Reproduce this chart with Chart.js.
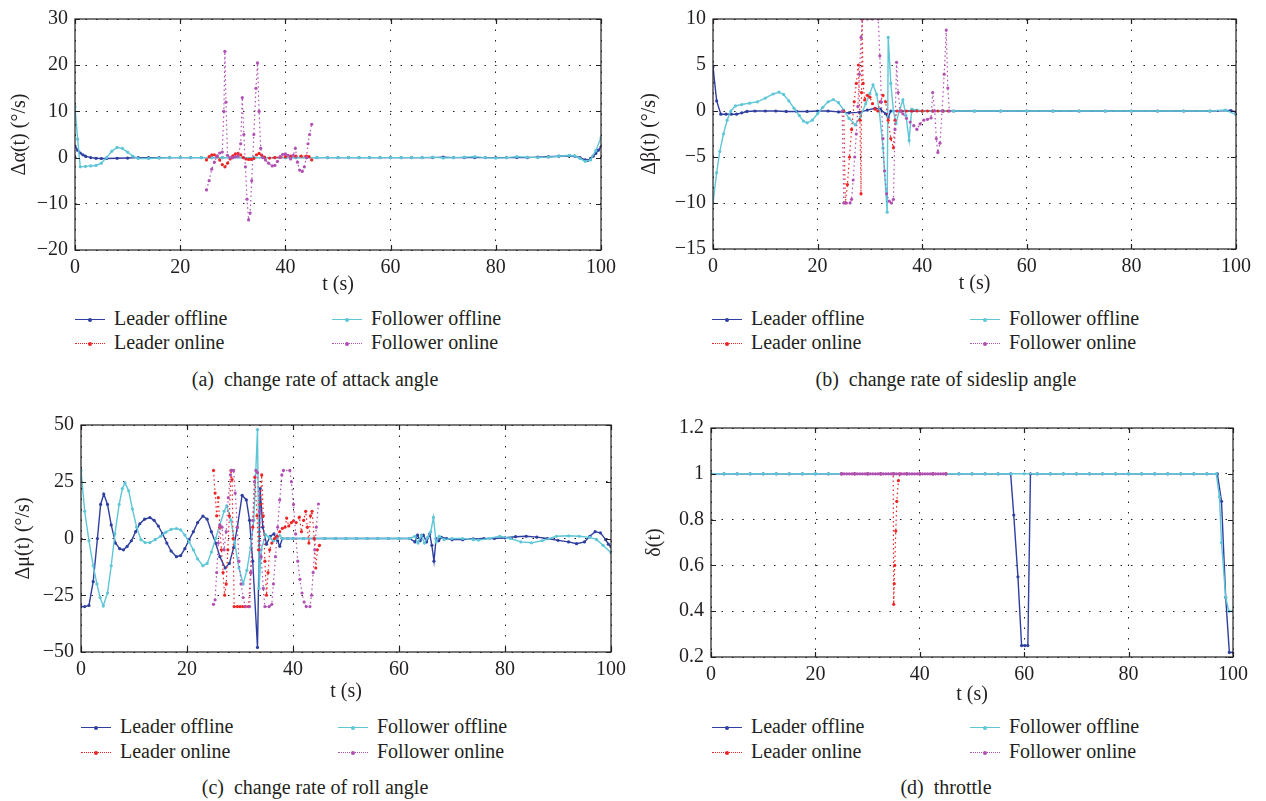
<!DOCTYPE html>
<html>
<head>
<meta charset="utf-8">
<script src="https://cdn.jsdelivr.net/npm/chart.js@4"></script>
<style>
  body { margin: 0; background: #fff; }
  #fig { position: relative; width: 1266px; height: 801px; overflow: hidden;
         font-family: "Liberation Serif", "Times New Roman", serif; color: #231f20; }
  #fig canvas { position: absolute; }
  .item { position: absolute; height: 20px; font-size: 20px; line-height: 20px; white-space: nowrap; }
  .smp { position: absolute; left: 0; top: 10px; width: 30px; height: 0; }
  .dot { position: absolute; left: 13px; top: -2.5px; width: 4px; height: 4px; border-radius: 2px; }
  .lbl { position: absolute; left: 39px; top: -1px; }
  .cap { position: absolute; font-size: 20px; line-height: 20px; white-space: pre; transform: translateX(-50%); }
</style>
</head>
<body>
<div id="fig">
  <canvas id="cA"></canvas>
  <canvas id="cB"></canvas>
  <canvas id="cC"></canvas>
  <canvas id="cD"></canvas>
</div>
<script>
// ---- data, [t, value] ----
const xTicks = [0, 20, 40, 60, 80, 100];
const seriesNames = ["Leader offline", "Follower offline", "Leader online", "Follower online"];

// (a) change rate of attack angle
const aLeaderOff = [[0,2.5],[0.5,1.6],[1,1.0],[1.5,0.6],[2,0.3],[3,0],[4,-0.15],[5,-0.2],[6,-0.2],[8,-0.15],[10,-0.1],[12,0],[14,0],[16,0],[18,0],[20,0],[22,0],[24,0],[26,0],[28,0],[30,0],[32,0],[34,0],[36,0],[38,0],[40,0],[42,0],[44,0],[46,0],[48,0],[50,0],[52,0],[54,0],[56,0],[58,0],[60,0],[62,0],[64,0],[66,0],[68,0],[70,0.1],[72,0],[74,0],[76,0],[78,0],[80,0],[82,0],[84,0],[86,0],[88,0.1],[90,0.2],[92,0.3],[94,0.4],[95,0.3],[96,0],[97,-0.5],[97.5,-0.6],[98,-0.3],[98.5,0.3],[99,0.9],[99.5,1.6],[100,2.3]];
const aFollowerOff = [[0,11],[0.5,4],[1,-2],[2,-1.9],[3,-1.8],[4,-1.7],[5,-1.2],[6,0],[7,1.4],[8,2.2],[9,2.0],[10,1.2],[11,0.3],[12,-0.2],[14,-0.2],[16,-0.1],[18,0],[20,0],[22,0],[24,0],[26,0],[28,0],[30,0],[32,0],[34,0],[36,0],[38,0],[40,0],[42,0],[44,0],[46,0],[48,0],[50,0],[52,0],[54,0],[56,0],[58,0],[60,0],[62,0],[64,0],[66,0],[68,0.1],[70,-0.1],[72,0],[74,0.1],[76,0.2],[78,0],[80,-0.1],[82,0],[84,0.2],[86,0.1],[88,0],[90,0.1],[92,0.3],[94,0.5],[95,0.4],[96,-0.2],[97,-0.8],[98,-0.5],[99,1.5],[100,4.3]];
const aLeaderOn = [[25,-0.5],[25.5,0.2],[26,0.6],[26.5,0.6],[27,0.3],[27.5,-0.5],[28,-1.5],[28.5,-2],[29,-1.2],[29.5,-0.3],[30,0.4],[30.5,0.8],[31,0.9],[31.5,0.6],[32,0],[32.5,-0.3],[33,-0.4],[33.5,-0.4],[34,-0.2],[34.5,0.6],[35,0.9],[35.5,0.5],[36,0.1],[37,-0.1],[38,0],[39,0.1],[40,0.2],[41,0.3],[42,0.3],[43,0.3],[44,0.3],[44.5,0.2],[45,-0.5]];
const aFollowerOn = [[25,-7],[25.5,-5],[26,-2.5],[26.5,-1],[27,0.3],[27.5,1],[28,1.2],[28.3,10],[28.5,23],[28.7,12],[29,0.5],[29.5,0],[30,0],[30.5,0.2],[31,0.3],[31.5,3],[31.8,13],[32.1,5],[32.4,-2],[32.7,-9],[33,-13.5],[33.3,-12],[33.6,-5],[34,5],[34.4,15],[34.7,20.5],[35,10],[35.3,2],[35.7,0],[36.2,-0.5],[36.8,-1.2],[37.5,-1.8],[38,-1.7],[38.5,-0.8],[39,0.2],[39.5,0.7],[40,0.8],[40.5,0.5],[41,-0.3],[41.5,0.5],[41.9,2],[42.3,-1],[42.7,-2.7],[43.2,-3],[43.6,-2],[44,0],[44.3,3],[44.6,5],[45,7.2]];

// (b) change rate of sideslip angle
const bLeaderOff = [[0,4.8],[0.7,1.1],[1.5,-0.35],[2.5,-0.35],[3.5,-0.35],[4.5,-0.35],[5.5,-0.2],[6.5,-0.05],[8,0],[10,0],[12,0],[14,-0.05],[16,-0.05],[18,-0.05],[20,0],[22,0],[24,-0.1],[26,-0.2],[28,-0.15],[29.5,0.1],[31,0.3],[32,0.2],[33,-0.3],[33.5,-0.7],[34,0],[36,0],[38,0],[40,0],[42,0],[44,0],[46,0],[50,0],[55,0],[60,0],[65,0],[70,0],[75,0],[80,0],[85,0],[90,0],[95,0],[99,0.05],[100,-0.1]];
const bFollowerOff = [[0,-10],[0.7,-6.7],[1.3,-4.4],[2,-2.5],[2.7,-1],[3.4,0],[4.3,0.55],[5.5,0.7],[7,0.85],[8.5,1.0],[10,1.4],[11.5,1.85],[12.6,2.05],[13.5,1.8],[14.5,1.1],[15.5,0.3],[16.5,-0.5],[17.3,-1.1],[18,-1.28],[19,-1.0],[20,-0.3],[21,0.4],[22,1.0],[23,1.25],[24,0.9],[25,0.1],[26,-0.8],[27.2,-1.5],[28.2,-0.6],[29.2,0.8],[30,1.9],[30.6,2.85],[31.3,1.8],[31.8,0],[32.5,-4],[33.3,-11],[33.5,8],[34,3],[34.5,0],[35,-1.35],[35.6,0],[36.3,1.2],[36.9,-0.5],[37.5,-3.2],[38,0.2],[39,0.1],[40,0],[42,0],[44,0],[46,0],[50,0],[55,0],[60,0],[65,0],[70,0],[75,0],[80,0],[85,0],[90,0],[95,0],[98,0.1],[100,-0.4]];
const bLeaderOn = [[25,0],[25.3,-10],[25.7,-8],[26.1,-5],[26.5,-2],[27,1],[27.4,3],[27.8,5],[28.1,-1],[28.3,-9],[28.4,2],[28.5,10],[28.7,3],[29,1.2],[29.5,1.7],[30,1.5],[30.5,0.8],[31,0.2],[31.5,0],[32,1],[32.5,1.7],[33,1],[33.5,-1],[34,-3],[34.5,-4],[34.8,-1],[35.2,0],[36,0],[37,0],[38,0],[39,0],[40,0],[41,0],[42,0],[43,0],[44,0],[45,0]];
const bFollowerOn = [[24.7,0],[25,-10],[25.5,-10],[26.2,-10],[26.5,-9.6],[26.8,-7.5],[27.1,-5],[27.4,-2.5],[27.7,0.5],[28,4],[28.3,8],[28.6,10],[29.5,10],[30.5,10],[31.6,10],[31.9,6],[32.2,1],[32.5,-3],[32.8,-6.5],[33.2,-9],[33.7,-9.8],[34.1,-10],[34.5,-9.6],[34.8,-2],[35.1,5.3],[35.4,2],[35.8,0],[36.3,-0.3],[37,-0.8],[37.7,-1.2],[38.4,-1.6],[39,-2],[39.6,-1.4],[40.3,-1],[41,-0.9],[41.7,-0.75],[42,2],[42.4,0],[42.7,-3],[43,-4.5],[43.4,-3.5],[43.8,0],[44.2,4],[44.6,8.8],[44.9,2.5],[45.2,0]];

// (c) change rate of roll angle
const cLeaderOff = [[0,-30],[0.7,-30],[1.5,-29.5],[2.3,-19],[3.1,0],[3.7,15],[4.3,19.6],[5,15],[5.7,6],[6.5,-2],[7.3,-4.5],[8,-5],[8.7,-3.5],[9.5,-1],[10.3,3],[11.1,6.5],[12,8.5],[13,9.2],[13.8,8],[14.6,5.5],[15.4,2],[16.2,-2],[17,-5.5],[18,-8],[18.8,-7.5],[19.6,-4.5],[20.4,-0.5],[21.2,3],[22,7],[23,9.9],[23.8,8.5],[24.6,3],[25.4,-2],[26.2,-8],[27.2,-13],[28,-11],[28.8,-4],[29.5,5],[30.4,19],[31.2,17],[31.8,8],[32.4,-10],[33.3,-48],[33.8,22],[34.3,5],[35,-2.5],[35.7,1],[36.4,2],[37.1,-1],[37.5,-3.4],[38,0],[39,0],[40,0],[42,0],[44,0],[46,0],[48,0],[50,0],[52,0],[54,0],[56,0],[58,0],[60,0],[62,0],[63,-1.5],[63.5,1.5],[64,-1],[64.6,1.5],[65.2,-1.5],[65.8,2],[66.2,-3],[66.6,-10],[67,0],[67.5,-1],[68,0.5],[69,0],[70,-0.5],[72,-0.5],[74,-0.2],[76,0],[78,0],[80,0.3],[82,0.8],[84,1],[86,0.6],[88,0],[90,-0.8],[92,-1.5],[93.5,-2.3],[95,-1.5],[96,1],[97,3],[98,2.5],[99,-0.5],[99.5,-2.5],[100,-3.5]];
const cFollowerOff = [[0,30],[0.7,12],[1.5,-1],[2.3,-12],[3,-20],[3.6,-26],[4.2,-29.7],[5,-24],[5.7,-12],[6.4,2],[7.2,15],[7.8,22],[8.3,24.5],[9,21],[9.7,13],[10.5,5],[11.3,-0.5],[12.1,-1.8],[13,-1.8],[14,-0.5],[15,1],[16,2.8],[17,4],[18,4.4],[18.8,3.8],[19.6,1.5],[20.4,-1.5],[21.2,-5],[22,-9],[23,-12],[23.8,-11],[24.6,-6],[25.4,0],[26.2,6],[27,12],[27.5,14.4],[28.3,8],[29,-2],[29.8,-13],[30.6,-20],[31.3,-14],[32,-4],[32.6,8],[33.3,48],[33.6,-22],[34,-5],[34.8,1.7],[35.5,0.5],[36.3,-1.1],[37,0],[37.5,1.3],[38,0],[39,0],[40,0],[42,0],[44,0],[46,0],[48,0],[50,0],[52,0],[54,0],[56,0],[58,0],[60,0],[62,0],[63,1],[63.6,-2],[64.2,1.5],[64.8,-2],[65.4,0.5],[66,3],[66.5,9.3],[67,-1.5],[67.6,1],[68.5,-0.5],[70,0],[72,0],[74,-0.5],[75,-0.7],[77,0],[79,1],[81,0],[83,-1.5],[85,-1.9],[87,-1],[89.7,1],[92,1.2],[94,1],[96,0.5],[97.3,-0.5],[98.5,-3],[100,-6.3]];
const cLeaderOn = [[25,30],[25.3,20],[25.6,10],[25.9,18],[26.2,5],[26.5,-5],[26.8,-15],[27.1,-25],[27.4,-20],[27.7,-5],[28,10],[28.3,30],[28.5,26],[28.7,0],[28.9,-30],[29.5,-30],[30,-30],[30.5,-30],[31,-30],[31.6,-30],[32,-15],[32.4,5],[32.8,27],[33.2,10],[33.5,-5],[33.8,15],[34.1,28],[34.4,10],[34.7,-10],[35,-25],[35.3,-15],[35.6,-5],[36,-2],[36.5,0],[37,1],[37.5,3],[38,4.5],[38.5,5],[38.8,9],[39.2,5.5],[39.7,7],[40.1,7.8],[40.6,7],[41.2,9.4],[41.6,3],[42,8],[42.4,12],[42.7,5],[43,-2],[43.3,10],[43.6,12],[44,0],[44.3,-13],[44.6,-5],[45,-3]];
const cFollowerOn = [[25,-29],[25.3,-27],[25.6,-15],[25.9,-2],[26.2,6],[26.6,5],[27,-5],[27.4,3],[27.8,18],[28.2,28],[28.4,30],[28.8,30],[29.1,20],[29.5,5],[29.8,-10],[30.2,-20],[30.6,-26],[31,-30],[31.8,-30],[32.1,-15],[32.4,8],[32.7,25],[33,30],[33.3,29],[33.7,12],[34,-8],[34.4,-22],[34.7,-30],[35.5,-30],[36,-29],[36.3,-20],[36.7,-8],[37.1,5],[37.5,17],[37.9,28],[38.2,30],[39.4,30],[39.7,25],[40.1,15],[40.5,2],[40.9,-10],[41.3,-18],[41.7,-24],[42.1,-28],[42.5,-30],[43.2,-30],[43.5,-25],[43.8,-15],[44.1,-5],[44.4,5],[44.8,15.2]];

// (d) throttle
const dLeaderOff = [[0,1],[2.5,1],[5,1],[7.5,1],[10,1],[12.5,1],[15,1],[17.5,1],[20,1],[22.5,1],[25,1],[27.5,1],[30,1],[32.5,1],[35,1],[37.5,1],[40,1],[42.5,1],[45,1],[47.5,1],[50,1],[52.5,1],[55,1],[57.4,1],[58,0.82],[58.8,0.55],[59.5,0.25],[60.1,0.25],[60.7,0.25],[61.2,1],[62.5,1],[65,1],[67.5,1],[70,1],[72.5,1],[75,1],[77.5,1],[80,1],[82.5,1],[85,1],[87.5,1],[90,1],[92.5,1],[95,1],[97,1],[97.8,0.88],[98.6,0.46],[99.3,0.22],[100,0.22]];
const dFollowerOff = [[0,1],[2.5,1],[5,1],[7.5,1],[10,1],[12.5,1],[15,1],[17.5,1],[20,1],[22.5,1],[25,1],[27.5,1],[30,1],[32.5,1],[35,1],[37.5,1],[40,1],[42.5,1],[45,1],[47.5,1],[50,1],[52.5,1],[55,1],[57.5,1],[60,1],[62.5,1],[65,1],[67.5,1],[70,1],[72.5,1],[75,1],[77.5,1],[80,1],[82.5,1],[85,1],[87.5,1],[90,1],[92.5,1],[95,1],[96.8,1],[97.4,0.9],[97.8,0.7],[98.6,0.46],[99.2,0.4],[100,0.4]];
const dLeaderOn = [[25,1],[27.5,1],[30,1],[32.5,1],[34.9,1],[35,0.43],[35.1,0.52],[35.2,0.6],[35.4,0.75],[35.6,0.88],[35.9,0.97],[36.2,1],[37.5,1],[40,1],[42.5,1],[45,1]];
const dFollowerOn = [[25,1],[25.5,1],[26,1],[26.5,1],[27,1],[27.5,1],[28,1],[28.5,1],[29,1],[29.5,1],[30,1],[30.5,1],[31,1],[31.5,1],[32,1],[32.5,1],[33,1],[33.5,1],[34,1],[34.5,1],[35,1],[35.5,1],[36,1],[36.5,1],[37,1],[37.5,1],[38,1],[38.5,1],[39,1],[39.5,1],[40,1],[40.5,1],[41,1],[41.5,1],[42,1],[42.5,1],[43,1],[43.5,1],[44,1],[44.5,1],[45,1]];

// ---- styling ----
const INK = "#231f20";
const FONT = "'Liberation Serif', 'Times New Roman', serif";
const COLORS = ["#2f3f9f", "#5ec6d6", "#ee2424", "#b150b3"];
const ONLINE = [false, false, true, true];

function mkSet(pts, i) {
  return {
    label: seriesNames[i],
    data: pts.map((p) => ({ x: p[0], y: p[1] })),
    borderColor: COLORS[i],
    backgroundColor: COLORS[i],
    borderWidth: ONLINE[i] ? 1.2 : 1.4,
    borderDash: ONLINE[i] ? [1.5, 3] : [],
    pointRadius: 1.6,
    pointBorderWidth: 0,
    pointHoverRadius: 0,
    showLine: true,
    tension: 0,
  };
}

// frame round the plot with inward ticks, matlab style
const framePlugin = {
  id: "frame",
  afterDraw(chart) {
    const { ctx, chartArea: a, scales } = chart;
    ctx.save();
    ctx.strokeStyle = INK;
    ctx.lineWidth = 1.2;
    ctx.strokeRect(a.left, a.top, a.right - a.left, a.bottom - a.top);
    ctx.beginPath();
    scales.x.ticks.forEach((t) => {
      const px = Math.round(scales.x.getPixelForValue(t.value)) + 0.5;
      ctx.moveTo(px, a.bottom); ctx.lineTo(px, a.bottom - 5);
      ctx.moveTo(px, a.top); ctx.lineTo(px, a.top + 5);
    });
    scales.y.ticks.forEach((t) => {
      const py = Math.round(scales.y.getPixelForValue(t.value)) + 0.5;
      ctx.moveTo(a.left, py); ctx.lineTo(a.left + 5, py);
      ctx.moveTo(a.right, py); ctx.lineTo(a.right - 5, py);
    });
    ctx.stroke();
    ctx.restore();
  },
};

function makeChart(id, box, area, yMin, yMax, yStep, yTitle, sets) {
  const cv = document.getElementById(id);
  cv.style.left = box[0] + "px";
  cv.style.top = box[1] + "px";
  cv.width = box[2];
  cv.height = box[3];
  const tickFont = { family: FONT, size: 20 };
  // online series drawn on top
  const datasets = [mkSet(sets[3], 3), mkSet(sets[2], 2), mkSet(sets[1], 1), mkSet(sets[0], 0)];
  return new Chart(cv, {
    type: "scatter",
    data: { datasets },
    options: {
      responsive: false,
      animation: false,
      devicePixelRatio: 1,
      layout: { padding: { top: area[1] - box[1], right: box[0] + box[2] - area[2], left: 0, bottom: 0 } },
      plugins: { legend: { display: false }, tooltip: { enabled: false } },
      scales: {
        x: {
          type: "linear", min: 0, max: 100,
          afterBuildTicks: (s) => { s.ticks = xTicks.map((v) => ({ value: v })); },
          ticks: { font: tickFont, color: INK, padding: 6, maxRotation: 0 },
          grid: { color: INK, lineWidth: 1, drawTicks: false },
          border: { display: false, dash: [1.5, 9] },
          title: { display: true, text: "t (s)", font: tickFont, color: INK, padding: { top: 0, bottom: 2 } },
          afterFit: (s) => { s.height = box[1] + box[3] - area[3]; },
        },
        y: {
          type: "linear", min: yMin, max: yMax,
          ticks: { stepSize: yStep, font: tickFont, color: INK, padding: 7,
                   callback: (v) => String(Math.round(v * 100) / 100).replace("-", "\u2212") },
          grid: { color: INK, lineWidth: 1, drawTicks: false },
          border: { display: false, dash: [1.5, 9] },
          title: { display: true, text: yTitle, font: tickFont, color: INK, padding: { top: 8, bottom: 0 } },
          afterFit: (s) => { s.width = area[0] - box[0]; },
        },
      },
    },
    plugins: [framePlugin],
  });
}

// box = canvas [left, top, width, height]; area = plot [left, top, right, bottom]
makeChart("cA", [0, 0, 625, 299], [75, 17, 601, 250], -20, 30, 10, "\u0394\u03b1(t) (\u00b0/s)",
  [aLeaderOff, aFollowerOff, aLeaderOn, aFollowerOn]);
makeChart("cB", [630, 0, 636, 298], [713, 14, 1236, 249], -15, 10, 5, "\u0394\u03b2(t) (\u00b0/s)",
  [bLeaderOff, bFollowerOff, bLeaderOn, bFollowerOn]);
makeChart("cC", [4, 406, 630, 300], [81, 419, 611, 652], -50, 50, 25, "\u0394\u03bc(t) (\u00b0/s)",
  [cLeaderOff, cFollowerOff, cLeaderOn, cFollowerOn]);
makeChart("cD", [635, 409, 631, 300], [711, 424, 1233, 657], 0.2, 1.2, 0.2, "\u03b4(t)",
  [dLeaderOff, dFollowerOff, dLeaderOn, dFollowerOn]);

// ---- legends and captions ----
const fig = document.getElementById("fig");
function addLegend(cols, rows) {
  // order in the figure: row 1 offline, row 2 online
  [[0, 0, 0], [1, 1, 0], [2, 0, 1], [3, 1, 1]].forEach(([i, c, r]) => {
    const it = document.createElement("div");
    it.className = "item";
    it.style.left = cols[c] + "px";
    it.style.top = rows[r] - 10 + "px";
    const style = ONLINE[i] ? "dotted" : "solid";
    it.innerHTML =
      '<div class="smp" style="border-top:1.5px ' + style + " " + COLORS[i] + '">' +
      '<div class="dot" style="background:' + COLORS[i] + '"></div></div>' +
      '<span class="lbl">' + seriesNames[i] + "</span>";
    fig.appendChild(it);
  });
}
function addCaption(text, cx, cy) {
  const d = document.createElement("div");
  d.className = "cap";
  d.textContent = text;
  d.style.left = cx + "px";
  d.style.top = cy - 10 + "px";
  fig.appendChild(d);
}
addLegend([75, 332], [319, 343]);
addLegend([712, 970], [319, 343]);
addLegend([81, 338], [727, 752]);
addLegend([712, 970], [727, 752]);
addCaption("(a)  change rate of attack angle", 315, 379);
addCaption("(b)  change rate of sideslip angle", 946, 379);
addCaption("(c)  change rate of roll angle", 315, 787);
addCaption("(d)  throttle", 946, 787);
</script>
</body>
</html>
